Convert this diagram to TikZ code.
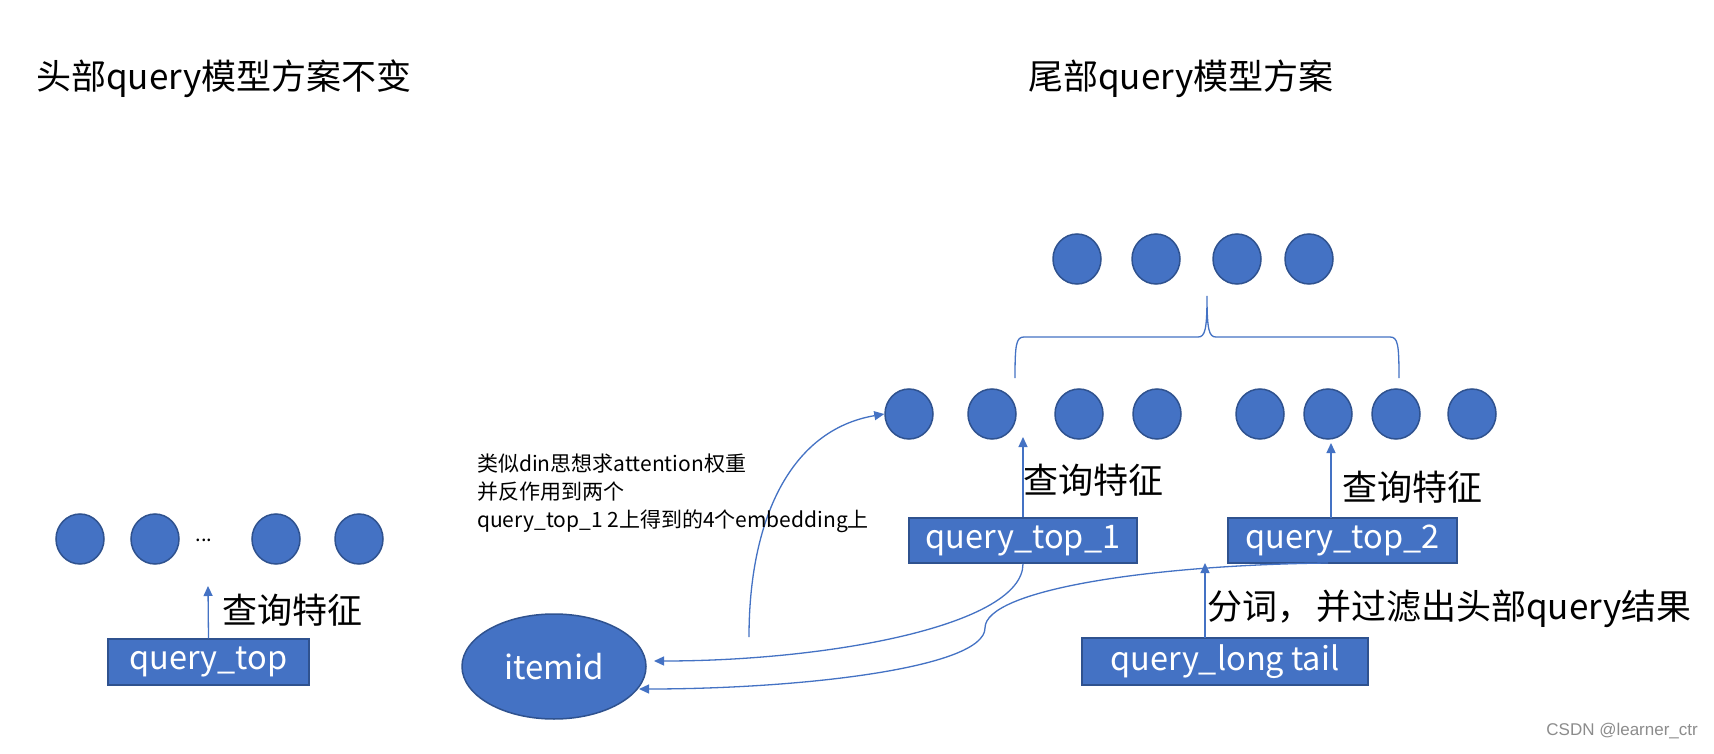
\documentclass[tikz,border=0pt]{standalone}
\usepackage{fontspec}
\setmainfont{Noto Sans CJK SC}
\newfontfamily\wmfont{Liberation Sans}
\usetikzlibrary{arrows.meta,shapes.geometric}
\definecolor{pblue}{HTML}{4472C4}
\definecolor{pdark}{HTML}{2F528F}
\begin{document}
\begin{tikzpicture}[x=1pt,y=-1pt,
  dot/.style={ellipse, fill=pblue, draw=pdark, line width=1.5pt, minimum width=48pt, minimum height=50pt, inner sep=0},
  qbox/.style={rectangle, fill=pblue, draw=pdark, line width=1.5pt, text=white, inner sep=0, font=\fontsize{32.5}{38}\selectfont},
  conn/.style={draw=pblue, line width=1.3pt, -{Triangle[length=10pt,width=9pt]}},
  plain/.style={draw=pblue, line width=1.3pt},
  lab/.style={font=\fontsize{35}{42}\selectfont, anchor=west, inner sep=0},
  ttl/.style={font=\fontsize{35}{42}\selectfont, anchor=west, inner sep=0},
]
\useasboundingbox (0,0) rectangle (1714,754);
\fill[white] (0,0) rectangle (1714,754);

% titles
\node[ttl] (t1) at (36,79) {头部query模型方案不变};
\node[ttl] (t2) at (1028,79) {尾部query模型方案};

% left part
\node[dot] (l1) at (80,539) {};
\node[dot] (l2) at (155,539) {};
\node[font=\fontsize{20}{24}\selectfont, inner sep=0] (ld) at (204,540) {...};
\node[dot] (l3) at (276,539) {};
\node[dot] (l4) at (359,539) {};
\node[qbox, minimum width=201pt, minimum height=46pt] (qt) at (208.5,662) {query\_top};
\coordinate (ltip) at (208,586);
\draw[conn] (qt.north) -- (ltip);
\node[lab] (lf) at (222,610) {查询特征};

% top row of right part
\node[dot] (u1) at (1077,259) {};
\node[dot] (u2) at (1156,259) {};
\node[dot] (u3) at (1237,259) {};
\node[dot] (u4) at (1309,259) {};

% brace
\coordinate (bl) at (1015,378);
\coordinate (br) at (1399,378);
\coordinate (bt) at (1207,296);
\draw[plain] (bl) .. controls (1015,345) and (1016,337) .. (1024,337)
  -- (1198,337) .. controls (1205,337) and (1207,330) .. (bt)
  .. controls (1207,330) and (1209,337) .. (1216,337)
  -- (1390,337) .. controls (1398,337) and (1399,345) .. (br);

% middle row
\node[dot] (m1) at (909,414) {};
\node[dot] (m2) at (992,414) {};
\node[dot] (m3) at (1079,414) {};
\node[dot] (m4) at (1157,414) {};
\node[dot] (m5) at (1260,414) {};
\node[dot] (m6) at (1328,414) {};
\node[dot] (m7) at (1396,414) {};
\node[dot] (m8) at (1472,414) {};

% query boxes
\node[qbox, minimum width=228pt, minimum height=45pt] (q1) at (1023,540.5) {query\_top\_1};
\node[qbox, minimum width=229pt, minimum height=45pt] (q2) at (1342.5,540.5) {query\_top\_2};
\node[qbox, minimum width=286pt, minimum height=47pt] (ql) at (1225,661.5) {query\_long tail};

\coordinate (a1) at (1023,437);
\draw[conn] (q1.north) -- (a1);
\node[lab] (f1) at (1023,480) {查询特征};

\coordinate (a2b) at (1331,518);
\coordinate (a2) at (1331,443);
\draw[conn] (a2b) -- (a2);
\node[lab] (f2) at (1342,487) {查询特征};

\coordinate (a3b) at (1205,638);
\coordinate (a3) at (1205,563);
\draw[conn] (a3b) -- (a3);
\node[lab] (f3) at (1207,609) {分词，\hspace{4pt}并过滤出头部query结果};

% itemid
\node[ellipse, fill=pblue, draw=pdark, line width=1.5pt, minimum width=184pt, minimum height=105pt, text=white, font=\fontsize{33}{40}\selectfont, inner sep=0] (it) at (554,666.5) {itemid};

\coordinate (e1) at (654,661);
\coordinate (e2) at (639,689);
\draw[conn] (q1.south) .. controls (1023,625) and (830,661) .. (e1);
\coordinate (q2s) at (1328,563);
\draw[conn] (q2s) .. controls (1150,565) and (985,590) .. (985,628)
  .. controls (985,668) and (800,689) .. (e2);

\coordinate (cs) at (749,637);
\draw[conn] (cs) .. controls (749,520) and (790,430) .. (m1.west);

% annotation
\node[anchor=west, align=left, inner sep=0, font=\fontsize{21}{28}\selectfont] (ann) at (477,493)
  {类似din思想求attention权重\\并反作用到两个\\query\_top\_1 2上得到的4个embedding上};

% watermark
\node[anchor=east, inner sep=0, text=black!45, font=\wmfont\fontsize{17}{20}\selectfont] (wm) at (1698,731) {CSDN @learner\_ctr};
\end{tikzpicture}
\end{document}
